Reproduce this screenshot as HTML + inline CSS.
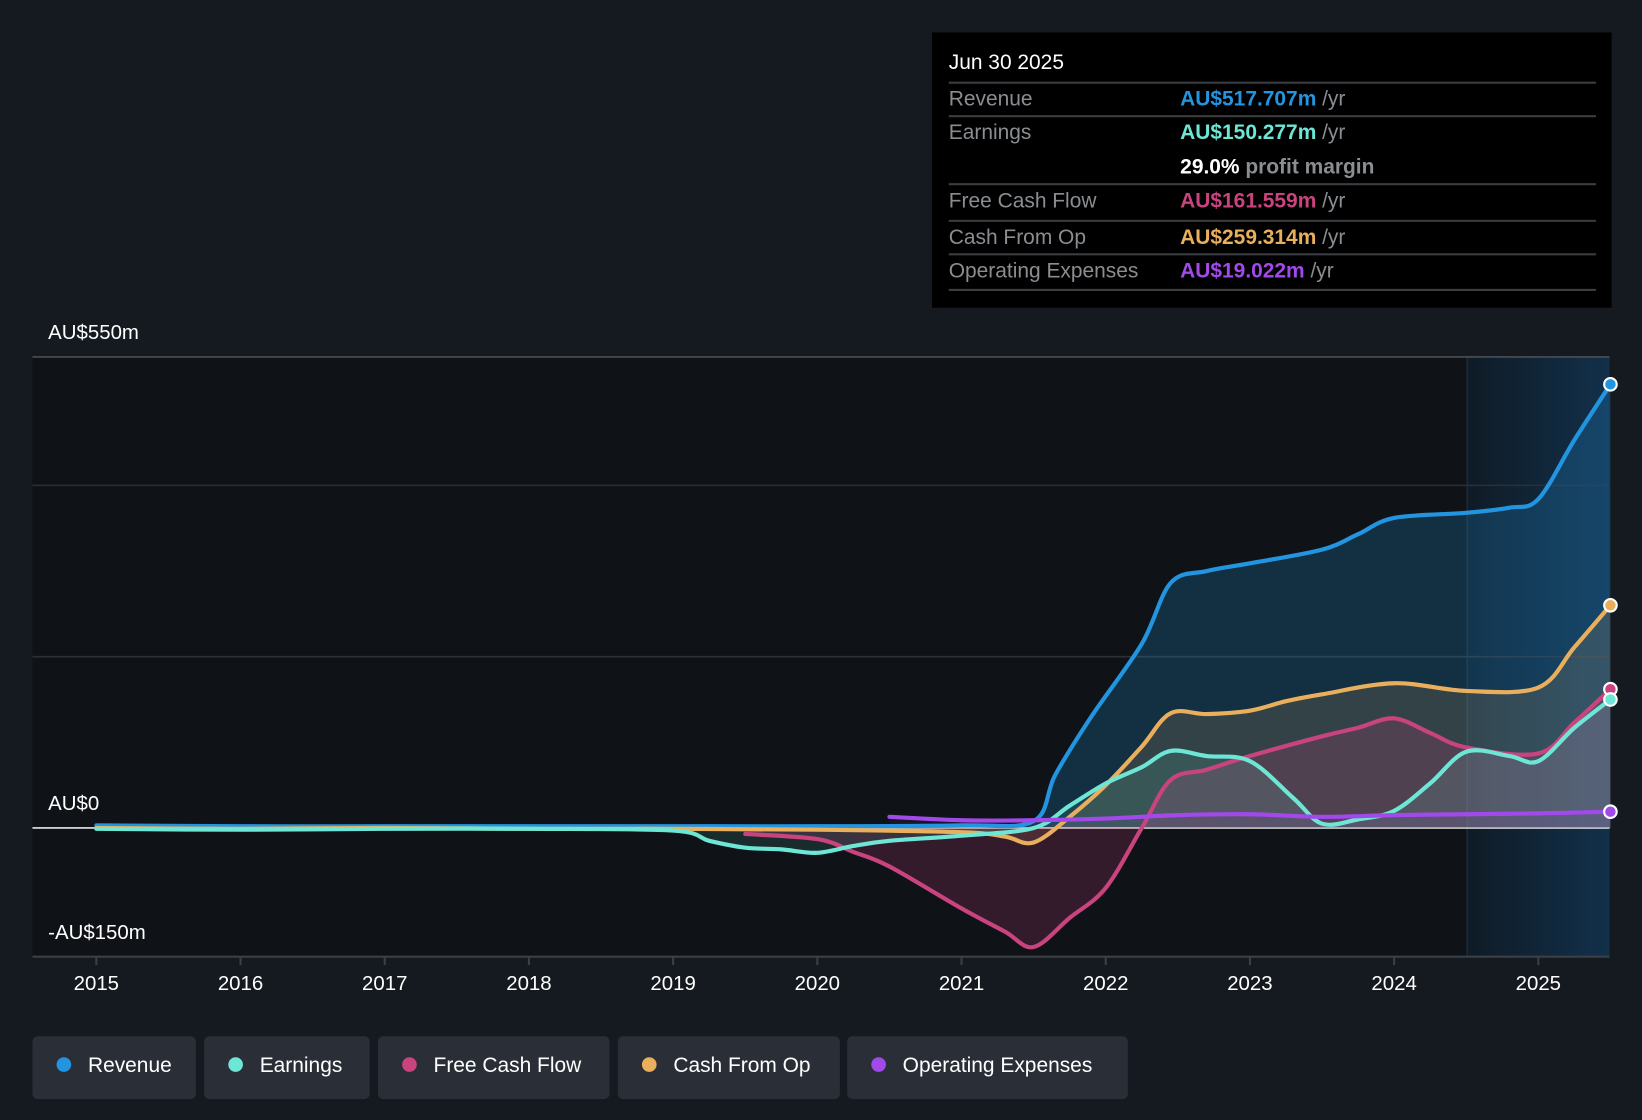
<!DOCTYPE html>
<html><head><meta charset="utf-8"><style>
html,body{margin:0;padding:0;background:#151a21;width:1642px;height:1120px;overflow:hidden}
svg{display:block;font-family:"Liberation Sans",sans-serif}
</style></head><body>
<svg id="chart" width="1642" height="1120" viewBox="0 0 1568 1070" preserveAspectRatio="none" xmlns="http://www.w3.org/2000/svg">
<defs>
<linearGradient id="fc" x1="0" x2="1" y1="0" y2="0"><stop offset="0" stop-color="#0f1b26"/><stop offset="1" stop-color="#12304a"/></linearGradient>
</defs>
<rect width="1568" height="1070" fill="#151a21"/>
<rect x="31" y="341" width="1370" height="573" fill="#0f1217"/>
<rect x="1401" y="341" width="136" height="573" fill="url(#fc)"/>
<line x1="1401" y1="341" x2="1401" y2="914" stroke="#1f3445" stroke-width="1"/>
<g id="grid"></g>
<g id="areas"></g>
<g id="lines"></g>
<g id="xaxis"></g>
<text x="46" y="324" fill="#fff" font-size="19.5">AU$550m</text>
<text x="46" y="774" fill="#fff" font-size="19.5">AU$0</text>
<text x="46" y="897" fill="#fff" font-size="19.5">-AU$150m</text>

<g>
<rect x="890" y="31" width="649" height="263" fill="#000"/>
<text x="906" y="66" fill="#fff" font-size="20">Jun 30 2025</text>
<g stroke="#3a3d42" stroke-width="2">
<line x1="906" y1="79" x2="1524" y2="79"/><line x1="906" y1="111" x2="1524" y2="111"/>
<line x1="906" y1="176" x2="1524" y2="176"/><line x1="906" y1="211" x2="1524" y2="211"/>
<line x1="906" y1="243" x2="1524" y2="243"/><line x1="906" y1="277" x2="1524" y2="277"/>
</g>
<g font-size="20" fill="#8a8d91">
<text x="906" y="101">Revenue</text><text x="906" y="133">Earnings</text>
<text x="906" y="198">Free Cash Flow</text><text x="906" y="233">Cash From Op</text>
<text x="906" y="265">Operating Expenses</text>
</g>
<g font-size="20" font-weight="bold">
<text x="1127" y="101" fill="#2394df">AU$517.707m <tspan fill="#8a8d91" font-weight="normal">/yr</tspan></text>
<text x="1127" y="133" fill="#6ee6d5">AU$150.277m <tspan fill="#8a8d91" font-weight="normal">/yr</tspan></text>
<text x="1127" y="166" fill="#fff">29.0% <tspan fill="#8a8d91">profit margin</tspan></text>
<text x="1127" y="198" fill="#c9437f">AU$161.559m <tspan fill="#8a8d91" font-weight="normal">/yr</tspan></text>
<text x="1127" y="233" fill="#e9af5d">AU$259.314m <tspan fill="#8a8d91" font-weight="normal">/yr</tspan></text>
<text x="1127" y="265" fill="#a249ea">AU$19.022m <tspan fill="#8a8d91" font-weight="normal">/yr</tspan></text>
</g>
</g>
<g id="legend"></g>
</svg>
<script>
const xYears=[2015,2016,2017,2018,2019,2020,2021,2022,2023,2024,2025];
const revT=[2015,2016,2017,2018,2019,2020,2021,2021.5,2021.65,2021.9,2022.25,2022.45,2022.7,2023,2023.5,2023.75,2024,2024.5,2024.8,2025,2025.25,2025.5];
const revV=[3,2,2,2,2,2,3,8,62,130,215,286,300,309,325,343,362,368,374,384,453,518];
const earnT=[2015,2016,2017,2018,2019,2019.25,2019.5,2019.75,2020,2020.25,2020.5,2021,2021.5,2021.75,2022,2022.25,2022.45,2022.7,2023,2023.3,2023.5,2023.75,2024,2024.25,2024.5,2024.8,2025,2025.25,2025.5];
const earnV=[-1,-2,-1,-1,-3,-15,-23,-25,-29,-21,-15,-9,0,26,52,71,90,84,78,35,5,10,20,52,89,84,78,117,150];
const fcfT=[2019.5,2020,2020.25,2020.5,2021,2021.3,2021.5,2021.75,2022,2022.25,2022.45,2022.7,2023,2023.5,2023.75,2024,2024.25,2024.5,2025,2025.25,2025.5];
const fcfV=[-7,-13,-28,-45,-94,-121,-139,-105,-70,0,56,68,84,107,117,128,111,94,87,123,162];
const cfoT=[2015,2016,2017,2018,2019,2020,2021,2021.3,2021.5,2021.75,2022,2022.25,2022.45,2022.7,2023,2023.25,2023.5,2024,2024.5,2025,2025.25,2025.5];
const cfoV=[0,-1,0,-1,-1,-2,-5,-10,-17,13,50,95,134,133,137,148,156,169,160,164,211,260];
const opxT=[2020.5,2021,2021.5,2022,2022.5,2023,2023.5,2024,2024.5,2025,2025.5];
const opxV=[13,9,9,11,15,16,13,15,16,17,19];

const X=t=>92+(t-2015)*137.7;
const Y=v=>791-v*0.8182;
const NS="http://www.w3.org/2000/svg";
function mk(tag,attrs,parent){const e=document.createElementNS(NS,tag);for(const k in attrs)e.setAttribute(k,attrs[k]);parent.appendChild(e);return e;}
function pathD(T,V){const p=T.map((t,i)=>[X(t),Y(V[i])]);let d="M"+p[0][0]+","+p[0][1];
 for(let i=0;i<p.length-1;i++){const p0=p[i-1]||p[i],p1=p[i],p2=p[i+1],p3=p[i+2]||p2;
  const c1=[p1[0]+(p2[0]-p0[0])/6,p1[1]+(p2[1]-p0[1])/6],c2=[p2[0]-(p3[0]-p1[0])/6,p2[1]-(p3[1]-p1[1])/6];
  d+=` C${c1[0]},${c1[1]} ${c2[0]},${c2[1]} ${p2[0]},${p2[1]}`;}return d;}

const grid=document.getElementById('grid');
[550,400,200].forEach(v=>{const l=mk('line',{x1:31,x2:1537,y1:Y(v),y2:Y(v),stroke:v==550?'#4a4f55':'#2c3035','stroke-width':1.5},grid);

});
const zl=mk('line',{x1:31,x2:1537,y1:Y(0),y2:Y(0),stroke:'#e8e8e8','stroke-width':1.5},grid);



const series=[
 ['revenue',revT,revV,'#2394df','rgba(35,148,223,0.22)'],
 ['cash-from-op',cfoT,cfoV,'#e9af5d','rgba(233,175,93,0.15)'],
 ['free-cash-flow',fcfT,fcfV,'#c9437f','rgba(201,67,127,0.2)'],
 ['earnings',earnT,earnV,'#6ee6d5','rgba(110,230,213,0.12)'],
 ['operating-expenses',opxT,opxV,'#a249ea','rgba(162,73,234,0.08)']];
const areas=document.getElementById('areas'),lines=document.getElementById('lines');
series.forEach(([n,T,V,c,f])=>{
 const d=pathD(T,V);
 const a=mk('path',{d:d+` L${X(T[T.length-1])},${Y(0)} L${X(T[0])},${Y(0)} Z`,fill:f},areas);
 
 
 const l=mk('path',{d:d,fill:'none',stroke:c,'stroke-width':4,'stroke-linecap':'round'},lines);
 
 
 const dot=mk('circle',{cx:X(T[T.length-1]),cy:Y(V[V.length-1]),r:6,fill:c,stroke:'#fff','stroke-width':2},lines);
 
 
});
const xa=document.getElementById('xaxis');
const ax=mk('line',{x1:31,x2:1537,y1:914,y2:914,stroke:'#3b4047','stroke-width':2},xa);


xYears.forEach(y=>{mk('line',{x1:X(y),x2:X(y),y1:914,y2:922,stroke:'#3b4047','stroke-width':2},xa);
 const t=mk('text',{x:X(y),y:946,fill:'#fff','font-size':19.5,'text-anchor':'middle'},xa);t.textContent=y;
 
 });

const legNames=['Revenue','Earnings','Free Cash Flow','Cash From Op','Operating Expenses'];
const legColors=['#2394df','#6ee6d5','#c9437f','#e9af5d','#a249ea'];
const legX=[31,195,361,590,809],legW=[156,158,221,212,268];
const lg=document.getElementById('legend');
legNames.forEach((n,i)=>{const g=mk('g',{},lg);
 
 
 mk('rect',{x:legX[i],y:990,width:legW[i],height:60,rx:5,fill:'#2a2f37'},g);
 mk('circle',{cx:legX[i]+30,cy:1017,r:7,fill:legColors[i]},g);
 const t=mk('text',{x:legX[i]+53,y:1024,fill:'#fff','font-size':20},g);t.textContent=n;});
</script>
</body></html>
